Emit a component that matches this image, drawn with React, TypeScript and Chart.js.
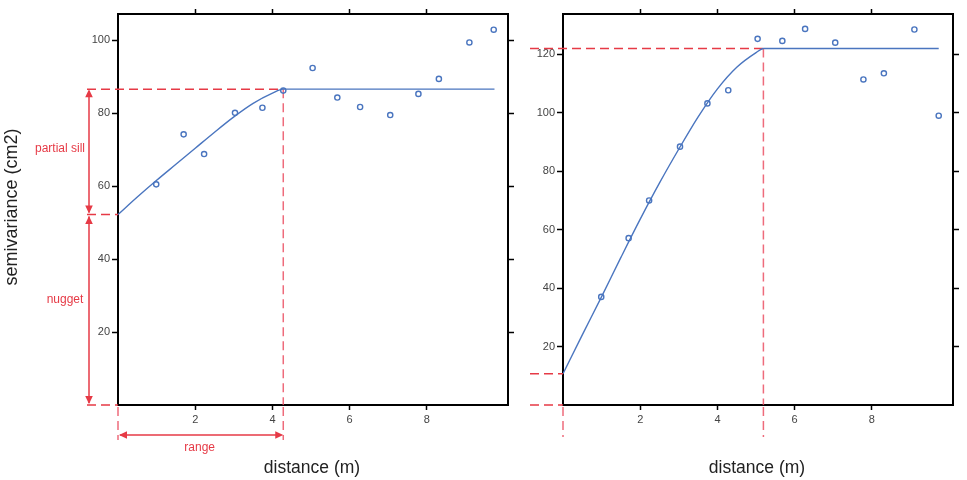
import React, { useEffect, useRef } from 'react';
import { Chart, registerables } from 'chart.js';

Chart.register(...registerables);

// ---- data ----
const distances = [0.99, 1.7, 2.23, 3.03, 3.74, 4.28, 5.04, 5.68, 6.27, 7.05, 7.78, 8.31, 9.1, 9.73];
const leftSemivariance = [60.5, 74.2, 68.8, 80.1, 81.5, 86.2, 92.4, 84.3, 81.7, 79.5, 85.3, 89.4, 99.4, 102.9];
const rightSemivariance = [37.0, 57.1, 70.0, 88.4, 103.2, 107.7, 125.3, 124.6, 128.7, 124.0, 111.4, 113.5, 128.5, 99.0];

const leftModelDistances = [0, 0.5, 1, 1.5, 2, 2.5, 3, 3.5, 4, 4.28, 9.75];
const leftModelValues = [52.2, 57.0, 61.6, 66.0, 70.4, 74.8, 79.0, 82.7, 85.5, 86.6, 86.6];
const rightModelDistances = [0, 0.5, 1, 1.5, 2, 2.5, 3, 3.5, 4, 4.5, 5, 5.19, 9.73];
const rightModelValues = [10.7, 24.0, 37.1, 50.5, 63.6, 76.0, 87.6, 98.6, 108.2, 115.6, 120.6, 122, 122];

const xTicks = [2, 4, 6, 8];
const leftYTicks = [20, 40, 60, 80, 100];
const rightYTicks = [20, 40, 60, 80, 100, 120];

const leftNugget = 52.2;
const leftSill = 86.6;
const leftRange = 4.28;
const rightNugget = 10.7;
const rightSill = 122;
const rightRange = 5.19;

const xLabel = 'distance (m)';
const yLabel = 'semivariance (cm2)';

const RED = '#e63a46';
const RED_V = 'rgba(234, 70, 90, 0.8)';
const BLUE = '#4a75bf';
const FONT = "'Liberation Sans', Arial, Helvetica, sans-serif";

type PanelOpts = {
  model: { d: number[]; v: number[] };
  points: number[];
  yMax: number;
  yTicks: number[];
  yWidth: number;
  y2Width: number;
  annot: (chart: any, phase: 'before' | 'after') => void;
};

function tickAxis(position: string, ticks: number[], min: number, max: number, size: number, showLabels: boolean, isX: boolean) {
  return {
    type: 'linear',
    position,
    min,
    max,
    afterBuildTicks: (s: any) => {
      s.ticks = ticks.map((v) => ({ value: v }));
    },
    afterFit: (s: any) => {
      if (isX) s.height = size;
      else s.width = size;
    },
    grid: {
      display: true,
      drawOnChartArea: false,
      drawTicks: true,
      tickLength: isX ? 5 : 6,
      tickColor: '#000',
      tickWidth: 1.5,
    },
    border: { display: true, color: '#000', width: 2 },
    ticks: {
      display: showLabels,
      font: { family: FONT, size: 11 },
      color: '#444',
      padding: isX ? 3 : 2,
      maxRotation: 0,
      autoSkip: false,
    },
  };
}

function makeConfig(o: PanelOpts) {
  const plugin = {
    id: 'annot',
    beforeDatasetsDraw: (chart: any) => o.annot(chart, 'before'),
    afterDraw: (chart: any) => o.annot(chart, 'after'),
  };
  return {
    type: 'scatter',
    data: {
      datasets: [
        {
          label: 'empirical',
          data: distances.map((x, i) => ({ x, y: o.points[i] })),
          showLine: false,
          pointRadius: 2.6,
          pointBorderWidth: 1.4,
          pointBorderColor: BLUE,
          pointBackgroundColor: 'rgba(255,255,255,0)',
          borderColor: BLUE,
          order: 1,
        },
        {
          label: 'model',
          data: o.model.d.map((x, i) => ({ x, y: o.model.v[i] })),
          showLine: true,
          borderColor: BLUE,
          borderWidth: 1.4,
          pointRadius: 0,
          cubicInterpolationMode: 'monotone',
          fill: false,
          order: 2,
        },
      ],
    },
    options: {
      responsive: false,
      animation: false,
      devicePixelRatio: 1,
      events: [],
      layout: { padding: 0 },
      plugins: { legend: { display: false }, tooltip: { enabled: false }, title: { display: false } },
      scales: {
        x: tickAxis('bottom', xTicks, 0, 10.1, 75, true, true),
        x2: tickAxis('top', xTicks, 0, 10.1, 14, false, true),
        y: tickAxis('left', o.yTicks, 0, o.yMax, o.yWidth, true, false),
        y2: tickAxis('right', o.yTicks, 0, o.yMax, o.y2Width, false, false),
      },
    },
    plugins: [plugin],
  };
}

function dashLine(ctx: CanvasRenderingContext2D, x1: number, y1: number, x2: number, y2: number, color: string) {
  ctx.save();
  ctx.strokeStyle = color;
  ctx.lineWidth = 1.5;
  ctx.setLineDash([9, 5]);
  ctx.beginPath();
  ctx.moveTo(x1, y1);
  ctx.lineTo(x2, y2);
  ctx.stroke();
  ctx.restore();
}

function arrowHead(ctx: CanvasRenderingContext2D, x: number, y: number, dir: 'up' | 'down' | 'left' | 'right') {
  const L = 8;
  const W = 3.8;
  ctx.beginPath();
  if (dir === 'up') {
    ctx.moveTo(x, y);
    ctx.lineTo(x - W, y + L);
    ctx.lineTo(x + W, y + L);
  } else if (dir === 'down') {
    ctx.moveTo(x, y);
    ctx.lineTo(x - W, y - L);
    ctx.lineTo(x + W, y - L);
  } else if (dir === 'left') {
    ctx.moveTo(x, y);
    ctx.lineTo(x + L, y - W);
    ctx.lineTo(x + L, y + W);
  } else {
    ctx.moveTo(x, y);
    ctx.lineTo(x - L, y - W);
    ctx.lineTo(x - L, y + W);
  }
  ctx.closePath();
  ctx.fill();
}

function solidLine(ctx: CanvasRenderingContext2D, x1: number, y1: number, x2: number, y2: number) {
  ctx.beginPath();
  ctx.moveTo(x1, y1);
  ctx.lineTo(x2, y2);
  ctx.stroke();
}

function xTitle(chart: any) {
  const ctx = chart.ctx as CanvasRenderingContext2D;
  const a = chart.chartArea;
  ctx.save();
  ctx.fillStyle = '#222';
  ctx.font = `17.5px ${FONT}`;
  ctx.textAlign = 'center';
  ctx.textBaseline = 'middle';
  ctx.fillText(xLabel, (a.left + a.right) / 2 - 1, a.bottom + 63);
  ctx.restore();
}

const leftAnnot = (chart: any, phase: 'before' | 'after') => {
  const ctx = chart.ctx as CanvasRenderingContext2D;
  const xs = chart.scales.x;
  const ys = chart.scales.y;
  const x0 = xs.getPixelForValue(0);
  const xR = xs.getPixelForValue(leftRange);
  const yS = ys.getPixelForValue(leftSill);
  const yN = ys.getPixelForValue(leftNugget);
  const y0 = ys.getPixelForValue(0);
  const xl = x0 - 31;
  if (phase === 'before') {
    dashLine(ctx, xl, yS, xR, yS, RED);
    dashLine(ctx, xR, yS, xR, y0, RED_V);
    return;
  }
  dashLine(ctx, xl, yN, x0, yN, RED);
  dashLine(ctx, xl, y0, x0, y0, RED);
  dashLine(ctx, xR, y0 + 2, xR, y0 + 35, RED_V);
  dashLine(ctx, x0, y0 + 2, x0, y0 + 35, RED_V);

  ctx.save();
  ctx.strokeStyle = RED;
  ctx.fillStyle = RED;
  ctx.lineWidth = 1.5;
  const ax = x0 - 29;
  // partial sill arrow
  solidLine(ctx, ax, yS + 2, ax, yN - 2);
  arrowHead(ctx, ax, yS, 'up');
  arrowHead(ctx, ax, yN - 1, 'down');
  // nugget arrow
  solidLine(ctx, ax, yN + 2, ax, y0 - 2);
  arrowHead(ctx, ax, yN + 1.5, 'up');
  arrowHead(ctx, ax, y0 - 1, 'down');
  // range arrow
  const ay = y0 + 30;
  solidLine(ctx, x0 + 2, ay, xR - 2, ay);
  arrowHead(ctx, x0 + 1, ay, 'left');
  arrowHead(ctx, xR, ay, 'right');

  ctx.font = `12px ${FONT}`;
  ctx.textAlign = 'center';
  ctx.textBaseline = 'middle';
  ctx.fillText('partial sill', 60, (yS + yN) / 2 - 3);
  ctx.fillText('nugget', 65, (yN + y0) / 2 - 10);
  ctx.fillText('range', (x0 + xR) / 2 - 1, ay + 13);

  // y title
  ctx.fillStyle = '#222';
  ctx.font = `18px ${FONT}`;
  ctx.translate(12, 207);
  ctx.rotate(-Math.PI / 2);
  ctx.fillText(yLabel, 0, 0);
  ctx.restore();

  xTitle(chart);
};

const rightAnnot = (chart: any, phase: 'before' | 'after') => {
  const ctx = chart.ctx as CanvasRenderingContext2D;
  const xs = chart.scales.x;
  const ys = chart.scales.y;
  const x0 = xs.getPixelForValue(0);
  const xR = xs.getPixelForValue(rightRange);
  const yS = ys.getPixelForValue(rightSill);
  const yN = ys.getPixelForValue(rightNugget);
  const y0 = ys.getPixelForValue(0);
  const xl = x0 - 33;
  if (phase === 'before') {
    dashLine(ctx, xl, yS, xR, yS, RED);
    dashLine(ctx, xR, yS, xR, y0, RED_V);
    return;
  }
  dashLine(ctx, xl, yN, x0, yN, RED);
  dashLine(ctx, xl, y0, x0, y0, RED);
  dashLine(ctx, xR, y0 + 2, xR, y0 + 32, RED_V);
  dashLine(ctx, x0, y0 + 2, x0, y0 + 32, RED_V);
  xTitle(chart);
};

function Panel(props: { left: number; width: number; opts: PanelOpts }) {
  const ref = useRef<HTMLCanvasElement | null>(null);
  useEffect(() => {
    if (!ref.current) return;
    const chart = new Chart(ref.current, makeConfig(props.opts) as any);
    return () => chart.destroy();
  }, []);
  return (
    <canvas
      ref={ref}
      width={props.width}
      height={480}
      style={{ position: 'absolute', left: props.left, top: 0, width: props.width, height: 480 }}
    />
  );
}

export default function App() {
  const leftOpts: PanelOpts = {
    model: { d: leftModelDistances, v: leftModelValues },
    points: leftSemivariance,
    yMax: 107.2,
    yTicks: leftYTicks,
    yWidth: 118,
    y2Width: 12,
    annot: leftAnnot,
  };
  const rightOpts: PanelOpts = {
    model: { d: rightModelDistances, v: rightModelValues },
    points: rightSemivariance,
    yMax: 133.8,
    yTicks: rightYTicks,
    yWidth: 43,
    y2Width: 14,
    annot: rightAnnot,
  };
  return (
    <div style={{ position: 'absolute', left: 0, top: 0, width: 967, height: 480, background: '#fff' }}>
      <Panel left={0} width={520} opts={leftOpts} />
      <Panel left={520} width={447} opts={rightOpts} />
    </div>
  );
}
